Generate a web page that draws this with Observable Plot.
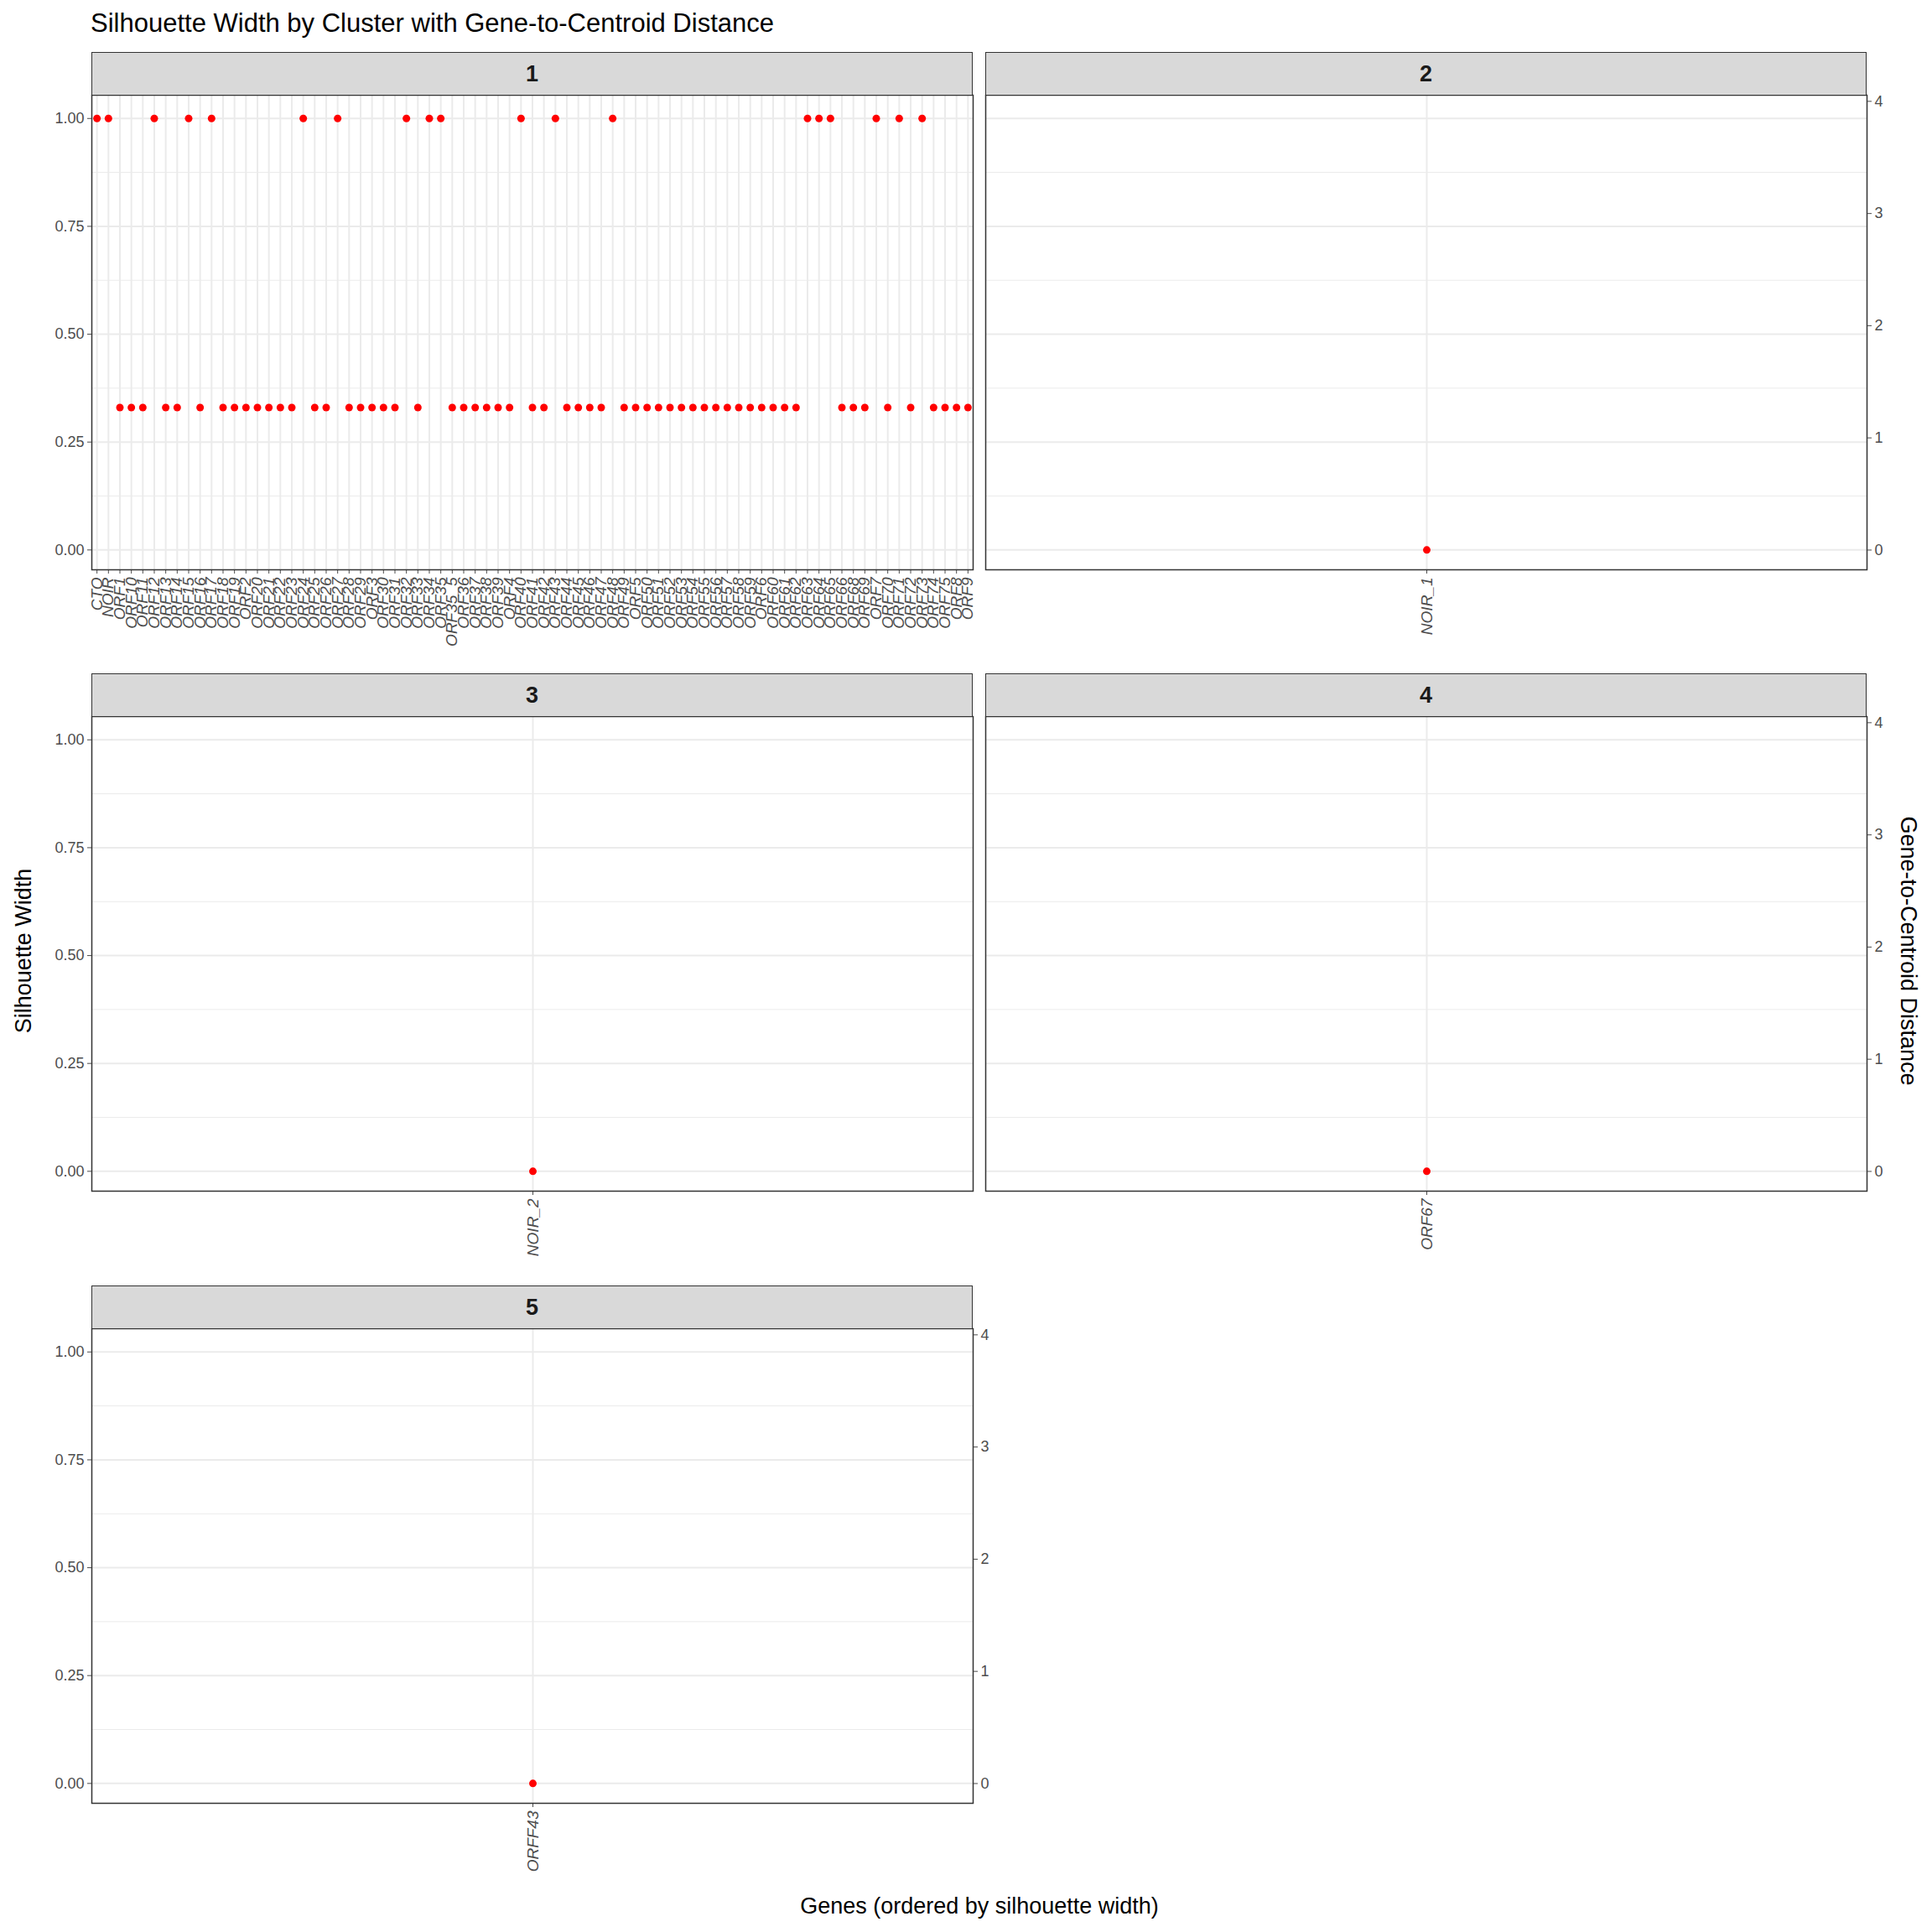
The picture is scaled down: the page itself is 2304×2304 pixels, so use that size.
<!DOCTYPE html>
<html><head><meta charset="utf-8">
<script src="https://cdn.jsdelivr.net/npm/d3@7"></script>
<script src="https://cdn.jsdelivr.net/npm/@observablehq/plot@0.6"></script>
<style>
body{margin:0;background:#fff;font-family:"Liberation Sans",Arial,sans-serif}
#wrap{position:relative;width:2304px;height:2304px;background:#fff}
.abs{position:absolute}
.strip{position:absolute;background:#d9d9d9;border:1.5px solid #333;box-sizing:border-box;font-weight:bold;font-size:27px;color:#1a1a1a;display:flex;align-items:center;justify-content:center}
g[aria-label="x-axis tick label"] text{font-style:italic}
</style></head><body>
<div id="wrap"></div>
<script>
// cluster 1 genes (alphabetical order as in the picture)
const genes1 = ["CTO","NOIR","ORF1","ORF10","ORF11","ORF12","ORF13","ORF14","ORF15","ORF16","ORF17","ORF18","ORF19","ORF2",
  "ORF20","ORF21","ORF22","ORF23","ORF24","ORF25","ORF26","ORF27","ORF28","ORF29","ORF3",
  "ORF30","ORF31","ORF32","ORF33","ORF34","ORF35","ORF35_5","ORF36","ORF37","ORF38","ORF39","ORF4",
  "ORF40","ORF41","ORF42","ORF43","ORF44","ORF45","ORF46","ORF47","ORF48","ORF49","ORF5",
  "ORF50","ORF51","ORF52","ORF53","ORF54","ORF55","ORF56","ORF57","ORF58","ORF59","ORF6",
  "ORF60","ORF61","ORF62","ORF63","ORF64","ORF65","ORF66","ORF68","ORF69","ORF7",
  "ORF70","ORF71","ORF72","ORF73","ORF74","ORF75","ORF8","ORF9"];
const highIdx = [0,1,5,8,10,18,21,27,29,30,37,40,45,62,63,64,68,70,72];
const sil1 = genes1.map((g,i) => highIdx.includes(i) ? 1.0 : 0.33);
const clusters = ["1","2","3","4","5"];
const clusterGenes = {"1": genes1, "2": ["NOIR_1"], "3": ["NOIR_2"], "4": ["ORF67"], "5": ["ORFF43"]};
const clusterSil = {"1": sil1, "2": [0], "3": [0], "4": [0], "5": [0]};
const yTicks = [0, 0.25, 0.5, 0.75, 1];
const y2Ticks = [0, 1, 2, 3, 4];

const wrap = document.getElementById("wrap");
const yDom = [-0.046, 1.054], y2Dom = [-0.176, 4.055];
const toLeft = v => yDom[0] + (v - y2Dom[0]) / (y2Dom[1] - y2Dom[0]) * (yDom[1] - yDom[0]);
const toRight = v => y2Dom[0] + (v - yDom[0]) / (yDom[1] - yDom[0]) * (y2Dom[1] - y2Dom[0]);

const PW = 1051, PH = 566, ML = 70, MR = 60, MB = 120;
// [left, top, left axis, right axis]
const pos = {"1":[109,113,true,false],"2":[1175,113,false,true],"3":[109,854,true,false],"4":[1175,854,false,true],"5":[109,1584,true,true]};

function add(el, css, html){const d=document.createElement("div");d.className=el;Object.assign(d.style,css);if(html!=null)d.innerHTML=html;wrap.appendChild(d);return d;}

for (const c of clusters) {
  const [px, py, left, right] = pos[c];
  const data = clusterGenes[c].map((g,i) => ({gene:g, sil:clusterSil[c][i]}));
  const minor = [0.125,0.375,0.625,0.875];
  const marks = [
    Plot.gridY(minor, {stroke:"#ebebeb", strokeOpacity:1, strokeWidth:1}),
    Plot.gridY(yTicks, {stroke:"#ebebeb", strokeOpacity:1, strokeWidth:2}),
    Plot.gridX(clusterGenes[c], {stroke:"#ebebeb", strokeOpacity:1, strokeWidth:2}),
    Plot.axisX({tickRotate:-90, label:null, fontSize:19, tickSize:5, color:"#4d4d4d"}),
    Plot.dot(data, {x:"gene", y:"sil", fill:"red", r:4.5}),
    Plot.frame({stroke:"#333", strokeWidth:1.5})
  ];
  if (left) marks.push(Plot.axisY({anchor:"left", ticks:yTicks, tickFormat:d3.format(".2f"), label:null, fontSize:18, tickSize:5, color:"#4d4d4d"}));
  else marks.push(Plot.axisY({anchor:"left", ticks:[], label:null}));
  if (right) marks.push(Plot.axisY({anchor:"right", ticks:y2Ticks.map(toLeft), tickFormat:v => Math.round(toRight(v)), label:null, fontSize:18, tickSize:5, color:"#4d4d4d"}));
  const chart = Plot.plot({
    width: PW + ML + MR, height: PH + MB,
    marginLeft: ML, marginRight: MR, marginTop: 0, marginBottom: MB,
    x: {type:"point", domain: clusterGenes[c], padding: 0.45},
    y: {domain: yDom},
    style: {fontFamily:"Liberation Sans, Arial, sans-serif", background:"transparent", overflow:"visible"},
    marks
  });
  const holder = add("abs", {left:(px-ML)+"px", top:py+"px"});
  holder.appendChild(chart);
  add("strip", {left:px+"px", top:(py-51)+"px", width:PW+"px", height:"52px"}, c);
}

add("abs", {left:"108px", top:"10px", fontSize:"31px", color:"#000"}, "Silhouette Width by Cluster with Gene-to-Centroid Distance");
add("abs", {left:"0px", top:"2258px", width:"2336px", textAlign:"center", fontSize:"27px"}, "Genes (ordered by silhouette width)");
add("abs", {left:"28px", top:"1134px", fontSize:"27px", transform:"translate(-50%,-50%) rotate(-90deg)", whiteSpace:"nowrap"}, "Silhouette Width");
add("abs", {left:"2275px", top:"1134px", fontSize:"27px", transform:"translate(-50%,-50%) rotate(90deg)", whiteSpace:"nowrap"}, "Gene-to-Centroid Distance");
</script>
</body></html>
